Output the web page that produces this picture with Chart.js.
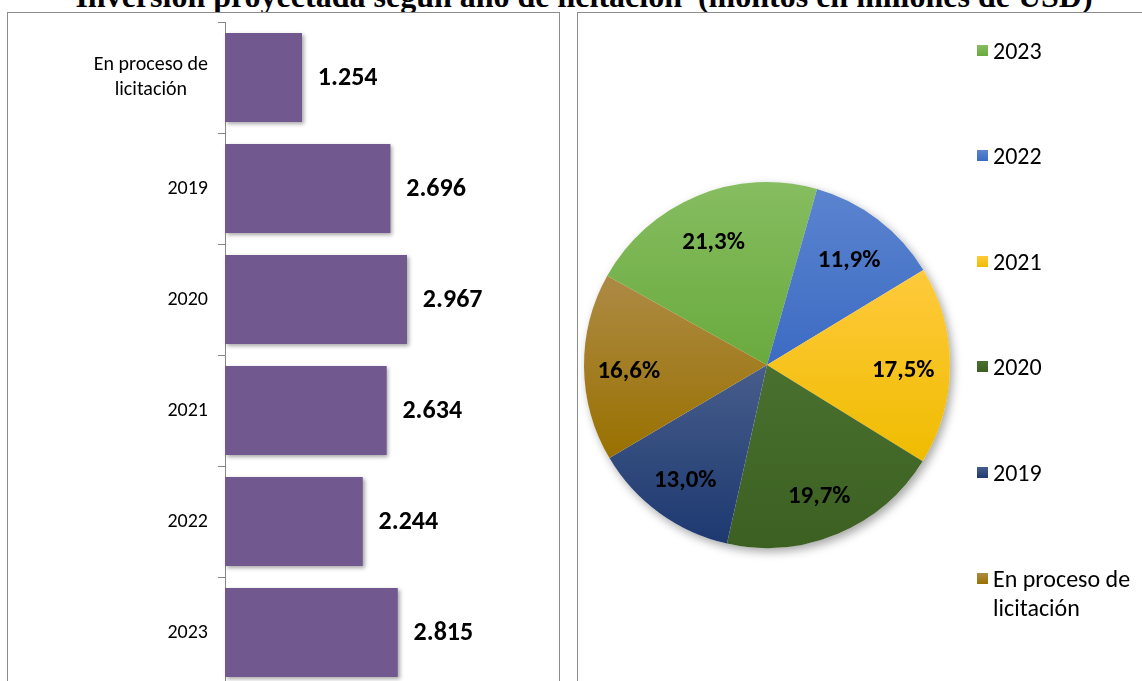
<!DOCTYPE html>
<html lang="es">
<head>
<meta charset="utf-8">
<title>Inversión proyectada según año de licitación</title>
<script src="https://cdn.jsdelivr.net/npm/chart.js@4.4.1/dist/chart.umd.min.js"></script>
<style>
  html, body { margin: 0; padding: 0; background: #fff; overflow: hidden; }
  body { width: 1142px; height: 681px; position: relative; font-family: Calibri, Carlito, Lato, sans-serif; }
  #title {
    position: absolute; left: 584px; top: -20px; transform: translateX(-50%);
    white-space: pre; font: bold 32px/32px "Liberation Serif", "Times New Roman", serif; color: #000;
  }
  .panel { position: absolute; top: 12px; border: 1px solid #8c8c8c; background: #fff; }
  #barPanel { left: 7px; width: 551px; height: 720px; }
  #piePanel { left: 577px; width: 620px; height: 720px; }
  #barChart { position: absolute; left: 8px; top: 13px; }
  #pieChart { position: absolute; left: 578px; top: 13px; }
  .legend-item {
    position: absolute; left: 977px; display: flex; align-items: flex-start;
    font: 24px/29px Calibri, Carlito, Lato, sans-serif; color: #000; white-space: nowrap;
  }
  .legend-item .swatch { width: 11px; height: 11px; margin: 9px 5px 0 0; flex: none; }
</style>
</head>
<body>
<div id="title">Inversión proyectada según año de licitación  (montos en millones de USD)</div>
<div class="panel" id="barPanel"></div>
<div class="panel" id="piePanel"></div>
<canvas id="barChart" width="550" height="680"></canvas>
<canvas id="pieChart" width="400" height="704"></canvas>
<div id="pieLegend"></div>
<script>
// bar chart: investment per tender year (millions USD)
const barCategories = [['En proceso de', 'licitación'], '2019', '2020', '2021', '2022', '2023'];
const investment = [1254, 2696, 2967, 2634, 2244, 2815];

// pie chart: share per year (%)
const pieLabels = ['2023', '2022', '2021', '2020', '2019', ['En proceso de', 'licitación']];
const pieShares = [21.3, 11.9, 17.5, 19.7, 13.0, 16.6];
const pieLight = ['#86bd60', '#5b84cf', '#ffca3c', '#4a7030', '#475d8b', '#ad8a45'];
const pieDark = ['#69aa3e', '#3c6bc3', '#efbc00', '#3b6021', '#1d3970', '#997100'];

const FONT = 'Calibri, Carlito, Lato, sans-serif';
const PIE_ROTATION = -60.8;

function thousands(v) {
  return String(v).replace(/\B(?=(\d{3})+(?!\d))/g, '.');
}

const barExtras = {
  id: 'barExtras',
  beforeDatasetsDraw(chart) {
    const { ctx } = chart;
    const meta = chart.getDatasetMeta(0);
    ctx.save();
    ctx.shadowColor = 'rgba(0,0,0,0.35)';
    ctx.shadowBlur = 4;
    ctx.shadowOffsetX = 2;
    ctx.shadowOffsetY = 2;
    ctx.fillStyle = '#71588f';
    meta.data.forEach(bar => {
      const h = bar.height;
      ctx.fillRect(bar.base, bar.y - h / 2, bar.x - bar.base, h);
    });
    ctx.restore();
  },
  afterDraw(chart) {
    const { ctx } = chart;
    const meta = chart.getDatasetMeta(0);
    const yScale = chart.scales.y;
    ctx.save();
    ctx.fillStyle = '#000';
    ctx.textBaseline = 'middle';

    // value labels at the end of each bar
    ctx.font = 'bold 26px ' + FONT;
    ctx.textAlign = 'left';
    meta.data.forEach((bar, i) => {
      ctx.fillText(thousands(investment[i]), bar.x + 16, bar.y + 1);
    });

    // category labels, lines centred inside a right-aligned block
    ctx.font = '20px ' + FONT;
    ctx.textAlign = 'center';
    chart.data.labels.forEach((lab, i) => {
      const lines = Array.isArray(lab) ? lab : [lab];
      const w = Math.max(...lines.map(l => ctx.measureText(l).width));
      const cx = yScale.right - 17 - w / 2;
      const cy = yScale.getPixelForTick(i);
      lines.forEach((l, k) => {
        ctx.fillText(l, cx, cy + (k - (lines.length - 1) / 2) * 25);
      });
    });
    ctx.restore();
  }
};

new Chart(document.getElementById('barChart'), {
  type: 'bar',
  data: {
    labels: barCategories,
    datasets: [{
      data: investment,
      backgroundColor: '#71588f',
      borderWidth: 0,
      categoryPercentage: 0.8,
      barPercentage: 1
    }]
  },
  options: {
    indexAxis: 'y',
    responsive: false,
    animation: false,
    devicePixelRatio: 1,
    layout: { padding: { top: 9, bottom: 5, left: 0, right: 29 } },
    plugins: { legend: { display: false }, tooltip: { enabled: false } },
    scales: {
      x: { display: false, min: 0, max: 4960 },
      y: {
        grid: { drawOnChartArea: false, color: '#868686', tickLength: 7 },
        border: { color: '#868686' },
        ticks: { display: false },
        afterFit: s => { s.width = 217; }
      }
    }
  },
  plugins: [barExtras]
});

// vertical gradient per slice, like the original office chart
function sliceFill(c) {
  const i = c.dataIndex;
  const area = c.chart.chartArea;
  if (!area) return pieDark[i];
  const cx = (area.left + area.right) / 2;
  const cy = (area.top + area.bottom) / 2;
  const R = Math.min(area.width, area.height) / 2;
  const data = c.dataset.data;
  const total = data.reduce((a, b) => a + b, 0);
  let start = (PIE_ROTATION - 90) * Math.PI / 180;
  for (let k = 0; k < i; k++) start += data[k] / total * Math.PI * 2;
  const end = start + data[i] / total * Math.PI * 2;
  let top = cy, bottom = cy;
  for (let s = 0; s <= 40; s++) {
    const a = start + (end - start) * s / 40;
    const y = cy + Math.sin(a) * R;
    top = Math.min(top, y);
    bottom = Math.max(bottom, y);
  }
  const g = c.chart.ctx.createLinearGradient(0, top, 0, bottom);
  g.addColorStop(0, pieLight[i]);
  g.addColorStop(1, pieDark[i]);
  return g;
}

const pieExtras = {
  id: 'pieExtras',
  beforeDatasetsDraw(chart) {
    const arc = chart.getDatasetMeta(0).data[0];
    if (!arc) return;
    const { ctx } = chart;
    ctx.save();
    ctx.shadowColor = 'rgba(0,0,0,0.35)';
    ctx.shadowBlur = 10;
    ctx.shadowOffsetX = 3;
    ctx.shadowOffsetY = 4;
    ctx.fillStyle = '#fff';
    ctx.beginPath();
    ctx.arc(arc.x, arc.y, arc.outerRadius, 0, Math.PI * 2);
    ctx.fill();
    ctx.restore();
  },
  afterDatasetsDraw(chart) {
    const { ctx } = chart;
    ctx.save();
    ctx.font = 'bold 25px ' + FONT;
    ctx.fillStyle = '#000';
    ctx.textAlign = 'center';
    ctx.textBaseline = 'middle';
    chart.getDatasetMeta(0).data.forEach((arc, i) => {
      const mid = (arc.startAngle + arc.endAngle) / 2;
      const r = arc.outerRadius * 0.75;
      const txt = pieShares[i].toFixed(1).replace('.', ',') + '%';
      ctx.fillText(txt, arc.x + Math.cos(mid) * r - 1, arc.y + Math.sin(mid) * r + 5);
    });
    ctx.restore();
  }
};

new Chart(document.getElementById('pieChart'), {
  type: 'pie',
  data: {
    labels: pieLabels,
    datasets: [{ data: pieShares, backgroundColor: sliceFill, borderWidth: 0 }]
  },
  options: {
    responsive: false,
    animation: false,
    devicePixelRatio: 1,
    rotation: PIE_ROTATION,
    layout: { padding: { left: 6, right: 28, top: 6, bottom: 6 } },
    plugins: { legend: { display: false }, tooltip: { enabled: false } }
  },
  plugins: [pieExtras]
});

// legend for the pie, one entry per year
const legendEl = document.getElementById('pieLegend');
pieLabels.forEach((lab, i) => {
  const item = document.createElement('div');
  item.className = 'legend-item';
  item.style.top = (35.5 + i * 105.6) + 'px';
  const sw = document.createElement('span');
  sw.className = 'swatch';
  sw.style.background = 'linear-gradient(' + pieLight[i] + ', ' + pieDark[i] + ')';
  const tx = document.createElement('span');
  (Array.isArray(lab) ? lab : [lab]).forEach((line, k) => {
    if (k) tx.appendChild(document.createElement('br'));
    tx.appendChild(document.createTextNode(line));
  });
  item.appendChild(sw);
  item.appendChild(tx);
  legendEl.appendChild(item);
});
</script>
</body>
</html>
